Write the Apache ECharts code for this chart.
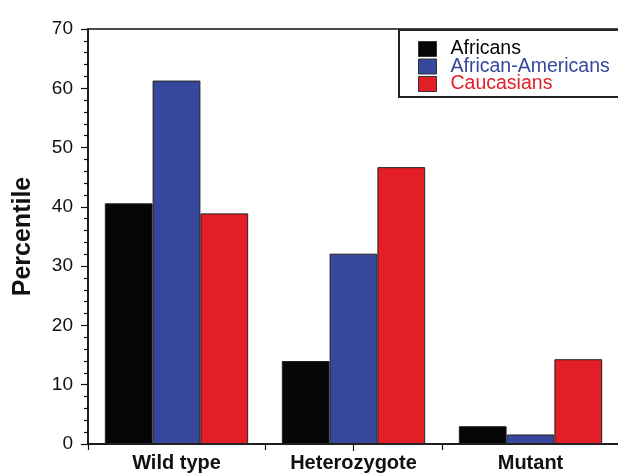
<!DOCTYPE html>
<html>
<head>
<meta charset="utf-8">
<script src="https://cdn.jsdelivr.net/npm/echarts@6/dist/echarts.min.js"></script>
<style>
html,body{margin:0;padding:0;overflow:hidden;background:#fff;}
#c{width:640px;height:473px;}
</style>
</head>
<body>
<div id="c"></div>
<script>
var categories = ['Wild type', 'Heterozygote', 'Mutant'];
var seriesNames = ['Africans', 'African-Americans', 'Caucasians'];
var africans = [40.6, 14.0, 3.0];
var africanAmericans = [61.3, 32.1, 1.6];
var caucasians = [38.9, 46.7, 14.3];
var yTicks = [0, 10, 20, 30, 40, 50, 60, 70];

var colors = ['#050505', '#36489c', '#e31e26'];
var values = [africans, africanAmericans, caucasians];

var chart = echarts.init(document.getElementById('c'));
var font = 'Liberation Sans, Arial, Helvetica, sans-serif';

chart.setOption({
  animation: false,
  textStyle: {fontFamily: font},
  grid: {left: 88, right: 21, top: 29, bottom: 27, show: true, borderColor: '#111', borderWidth: 1.5, backgroundColor: 'transparent'},
  legend: {
    orient: 'vertical',
    left: 399, top: 30,
    padding: [9, 30, 3, 19],
    borderColor: '#222', borderWidth: 2,
    itemWidth: 18, itemHeight: 15, itemGap: -2.5,
    icon: 'rect',
    itemStyle: {borderColor: '#333', borderWidth: 1},
    data: seriesNames.map(function (n, i) {
      return {name: n, textStyle: {color: colors[i]}};
    }),
    textStyle: {fontSize: 19.5, fontFamily: font, lineHeight: 16, padding: [0, 0, 0, 9]}
  },
  xAxis: [{
    type: 'category',
    data: categories,
    axisLine: {lineStyle: {color: '#111', width: 1.5}},
    axisTick: {show: true, length: 6, lineStyle: {color: '#111', width: 1.2}},
    axisLabel: {color: '#111', fontSize: 20, fontWeight: 'bold', margin: 9, fontFamily: font},
    splitLine: {show: false}
  }, {
    type: 'category',
    data: categories,
    position: 'bottom',
    axisLine: {show: false},
    axisTick: {show: true, alignWithLabel: true, length: 7, interval: function (i) { return i === 1; }, lineStyle: {color: '#111', width: 1.2}},
    axisLabel: {show: false},
    splitLine: {show: false}
  }],
  yAxis: {
    type: 'value',
    min: yTicks[0], max: yTicks[yTicks.length - 1], interval: 10,
    name: 'Percentile',
    nameLocation: 'middle',
    nameGap: 52,
    nameTextStyle: {fontSize: 25, fontWeight: 'bold', color: '#111', fontFamily: font},
    axisLine: {show: true, lineStyle: {color: '#111', width: 1.5}},
    axisTick: {show: true, length: 7, lineStyle: {color: '#111', width: 1.2}},
    minorTick: {show: true, splitNumber: 5, length: 4, lineStyle: {color: '#111', width: 1.2}},
    axisLabel: {color: '#111', fontSize: 19, margin: 15, fontFamily: font},
    splitLine: {show: false}
  },
  series: seriesNames.map(function (n, i) {
    return {
      name: n,
      type: 'bar',
      xAxisIndex: 0,
      data: values[i],
      barGap: '0%',
      barCategoryGap: '19%',
      itemStyle: {color: colors[i], borderColor: '#222', borderWidth: 1}
    };
  })
});
</script>
</body>
</html>
